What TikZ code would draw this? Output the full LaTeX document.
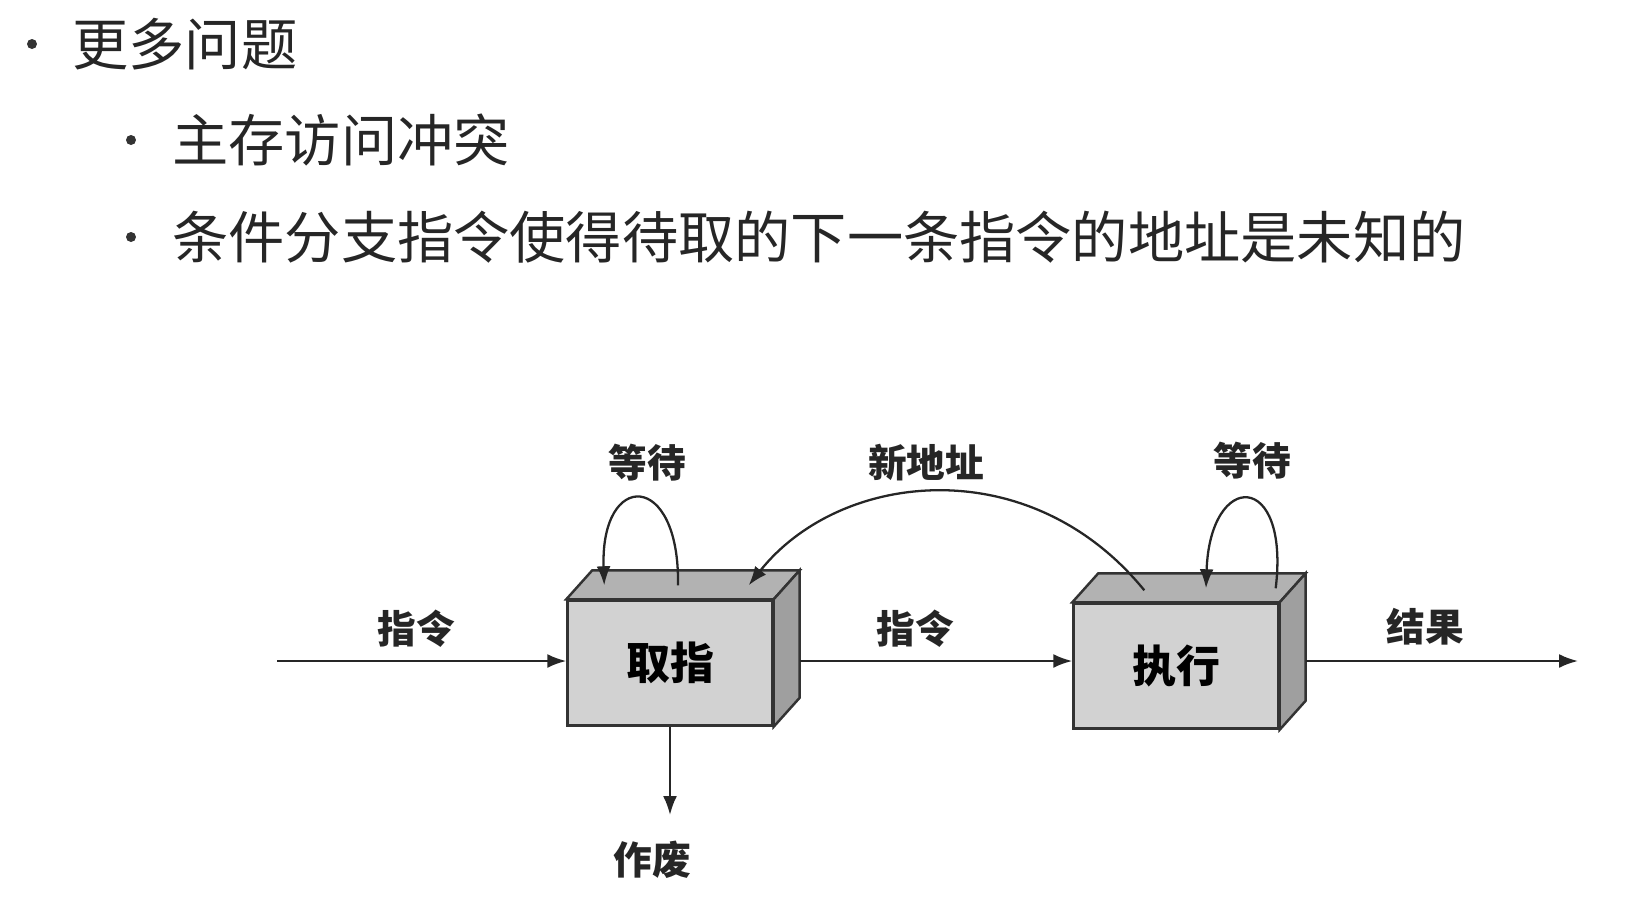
\documentclass[tikz,border=0pt]{standalone}
\usepackage{fontspec}
\newfontfamily\cjk{Noto Sans CJK SC}
\usetikzlibrary{arrows.meta, positioning, calc}

\begin{document}
\begin{tikzpicture}[
    x=0.02cm, y=-0.02cm,
    bullet/.style={font=\cjk\fontsize{32}{36}\selectfont, text=black!85, anchor=west, inner sep=0pt},
    dot/.style={circle, fill=black!80, inner sep=0pt, minimum size=0.2cm},
    stage/.style={rectangle, draw=black!80, line width=1.4pt, fill=gray!35, minimum width=4.1cm, minimum height=2.5cm, font=\cjk\bfseries\fontsize{25}{27}\selectfont},
    lbl/.style={font=\cjk\bfseries\fontsize{22}{24}\selectfont, text=black!85},
    arrow/.style={-{Latex[length=3.8mm,width=2.8mm]}, line width=1.3pt, black!85}
]
\useasboundingbox (0,0) rectangle (1641,923);

% Text
\node[dot] (d1) at (32,44) {};
\node[bullet] (t1) at (72,44) {更多问题};
\node[dot] (d2) at (131,140) {};
\node[bullet] (t2) at (172,140) {主存访问冲突};
\node[dot] (d3) at (131,237) {};
\node[bullet] (t3) at (172,237) {条件分支指令使得待取的下一条指令的地址是未知的};

% Stages
\node[stage] (fetch) at (670,663) {取指};
\node[stage] (exec) at (1176,666) {执行};
\foreach \s in {fetch, exec} {
  \draw[draw=black!80, line width=1.4pt, fill=gray!60] (\s.north west) -- ++(26,-29) -- ($(\s.north east)+(26,-29)$) -- (\s.north east) -- cycle;
  \draw[draw=black!80, line width=1.4pt, fill=gray!75] (\s.north east) -- ++(26,-29) -- ($(\s.south east)+(26,-29)$) -- (\s.south east) -- cycle;
}

% Coordinates
\coordinate (in) at (277,661);
\coordinate (out) at (1578,661);
\coordinate (waste) at (670,815);

% Arrows
\draw[arrow] (in) -- (fetch.west |- in);
\draw[arrow] ($(fetch.east |- in)+(26,0)$) -- (exec.west |- in);
\draw[arrow] ($(exec.east |- in)+(26,0)$) -- (out);
\draw[arrow] (fetch.south) -- (waste);
\draw[arrow] ($(fetch.north)+(8,-14)$) .. controls (680,470) and (600,470) .. ($(fetch.north west)+(38,-14)$);
\draw[arrow] ($(exec.north east)+(-4,-14)$) .. controls (1290,470) and (1210,470) .. ($(exec.north)+(30,-14)$);
\draw[arrow] ($(exec.north west)+(72,-12)$) .. controls (1030,450) and (840,470) .. ($(fetch.north east)+(-25,-14)$);

% Labels
\node[lbl] (l1) at (416,629) {指令};
\node[lbl] (l2) at (915,629) {指令};
\node[lbl] (l3) at (1425,627) {结果};
\node[lbl] (l4) at (652,860) {作废};
\node[lbl] (l5) at (647,463) {等待};
\node[lbl] (l6) at (1252,461) {等待};
\node[lbl] (l7) at (926,463) {新地址};
\end{tikzpicture}
\end{document}
